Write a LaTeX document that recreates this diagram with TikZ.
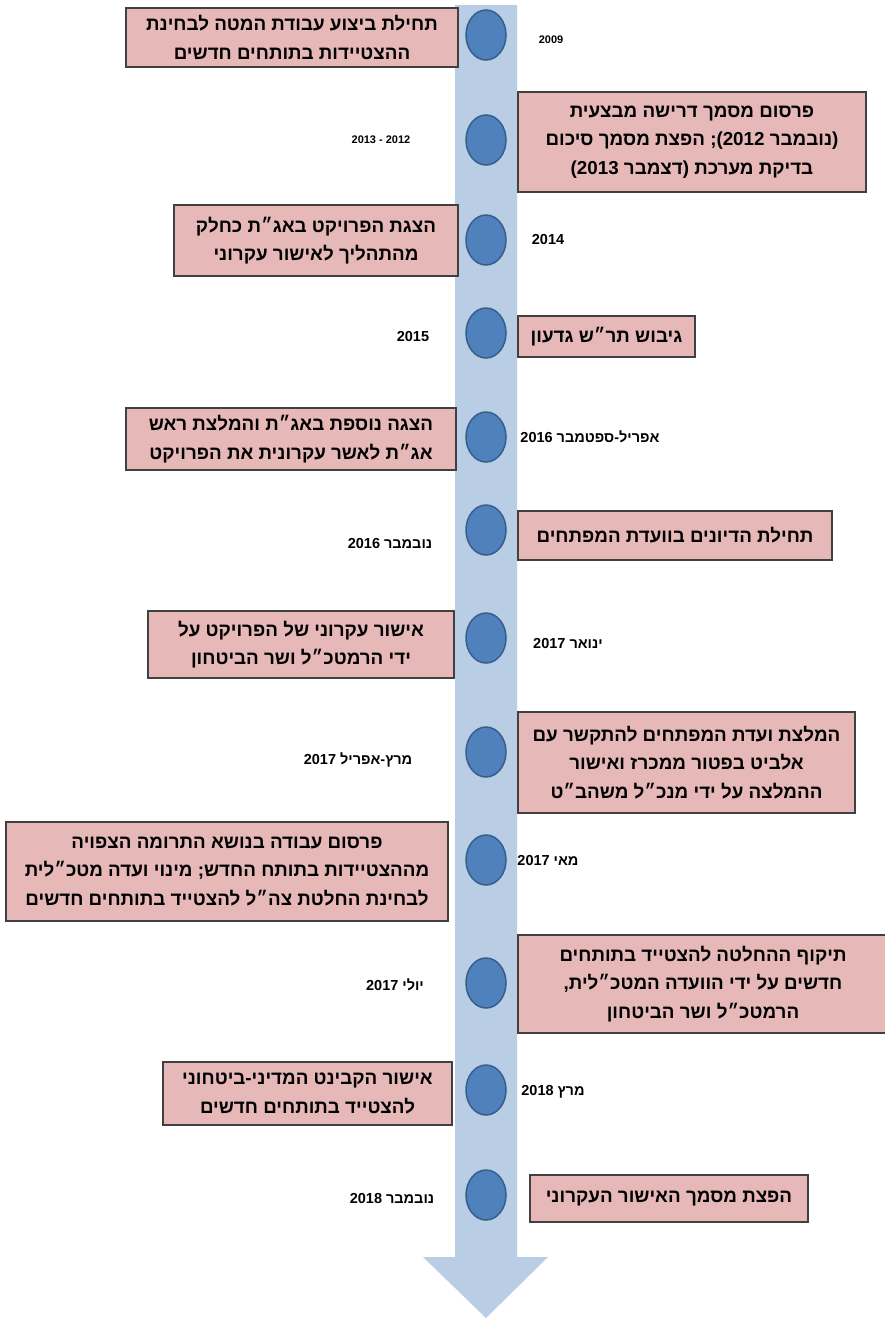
\documentclass[tikz,border=0pt]{standalone}
\usepackage{fontspec}
\setmainfont{Liberation Sans}
\newfontfamily\heb[Script=Hebrew]{Liberation Sans}
\TeXXeTstate=1
\usetikzlibrary{shapes.geometric}
\definecolor{shaftcol}{HTML}{B9CDE5}
\definecolor{boxfill}{HTML}{E6B9B8}
\definecolor{boxline}{HTML}{404040}
\definecolor{dotfill}{HTML}{4F81BD}
\definecolor{dotline}{HTML}{385D8A}
\newcommand\RL[1]{\beginR #1\endR}
\begin{document}
\begin{tikzpicture}[x=1pt,y=-1pt,
  evbox/.style={draw=boxline, line width=1.6pt, fill=boxfill, align=center, inner sep=0pt,
    font=\heb\bfseries\fontsize{18.8}{28.5}\selectfont},
  dot/.style={ellipse, draw=dotline, line width=1.5pt, fill=dotfill,
    minimum width=40pt, minimum height=50pt, inner sep=0pt},
  yr/.style={font=\heb\bfseries\fontsize{14.5}{16}\selectfont, inner sep=0pt},
  yrsmall/.style={font=\heb\bfseries\fontsize{11}{13}\selectfont, inner sep=0pt}]
\useasboundingbox (0,0) rectangle (885,1318);
\fill[white] (0,0) rectangle (885,1318);
% timeline arrow
\fill[shaftcol] (455,5) -- (517,5) -- (517,1257) -- (548,1257) -- (486,1318)
  -- (423,1257) -- (455,1257) -- cycle;
% dots
\foreach \i/\y in {1/35,2/140,3/240,4/333,5/437,6/530,7/638,8/752,9/860,10/983,11/1090,12/1195}
  \node[dot] (d\i) at (486,\y) {};
% boxes
\node[evbox, minimum width=332pt, minimum height=59pt] (b1) at (292,37.5)
  {\RL{תחילת ביצוע עבודת המטה לבחינת}\\\RL{ההצטיידות בתותחים חדשים}};
\node[evbox, minimum width=348pt, minimum height=100pt] (b2) at (692,142)
  {\RL{פרסום מסמך דרישה מבצעית}\\\RL{(נובמבר 2012); הפצת מסמך סיכום}\\\RL{בדיקת מערכת (דצמבר 2013)}};
\node[evbox, minimum width=284pt, minimum height=71pt] (b3) at (316,240.5)
  {\RL{הצגת הפרויקט באג״ת כחלק}\\\RL{מהתהליך לאישור עקרוני}};
\node[evbox, minimum width=177pt, minimum height=41pt] (b4) at (606.5,336.5)
  {\RL{גיבוש תר״ש גדעון}};
\node[evbox, minimum width=330pt, minimum height=62pt] (b5) at (291,439)
  {\RL{הצגה נוספת באג״ת והמלצת ראש}\\\RL{אג״ת לאשר עקרונית את הפרויקט}};
\node[evbox, minimum width=314pt, minimum height=49pt] (b6) at (675,535.5)
  {\RL{תחילת הדיונים בוועדת המפתחים}};
\node[evbox, minimum width=306pt, minimum height=67pt] (b7) at (301,644.5)
  {\RL{אישור עקרוני של הפרויקט על}\\\RL{ידי הרמטכ״ל ושר הביטחון}};
\node[evbox, minimum width=337pt, minimum height=101pt] (b8) at (686.5,762.5)
  {\RL{המלצת ועדת המפתחים להתקשר עם}\\\RL{אלביט בפטור ממכרז ואישור}\\\RL{ההמלצה על ידי מנכ״ל משהב״ט}};
\node[evbox, minimum width=442pt, minimum height=99pt] (b9) at (227,871.5)
  {\RL{פרסום עבודה בנושא התרומה הצפויה}\\\RL{מההצטיידות בתותח החדש; מינוי ועדה מטכ״לית}\\\RL{לבחינת החלטת צה״ל להצטייד בתותחים חדשים}};
\node[evbox, minimum width=370pt, minimum height=98pt] (b10) at (703,984)
  {\RL{תיקוף ההחלטה להצטייד בתותחים}\\\RL{חדשים על ידי הוועדה המטכ״לית,}\\\RL{הרמטכ״ל ושר הביטחון}};
\node[evbox, minimum width=289pt, minimum height=63pt] (b11) at (307.5,1093.5)
  {\RL{אישור הקבינט המדיני-ביטחוני}\\\RL{להצטייד בתותחים חדשים}};
\node[evbox, minimum width=278pt, minimum height=47pt] (b12) at (669,1198.5)
  {\RL{הפצת מסמך האישור העקרוני}};
% year labels
\node[yrsmall] (y1) at (551,40) {2009};
\node[yrsmall] (y2) at (381,140) {2013 - 2012};
\node[yr] (y3) at (548,240) {2014};
\node[yr] (y4) at (413,337) {2015};
\node[yr] (y5) at (590,437) {\RL{אפריל-ספטמבר 2016}};
\node[yr] (y6) at (390,543) {\RL{נובמבר 2016}};
\node[yr] (y7) at (568,643) {\RL{ינואר 2017}};
\node[yr] (y8) at (358,760) {\RL{מרץ-אפריל 2017}};
\node[yr] (y9) at (548,860) {\RL{מאי 2017}};
\node[yr] (y10) at (395,985) {\RL{יולי 2017}};
\node[yr] (y11) at (553,1092) {\RL{מרץ 2018}};
\node[yr] (y12) at (392,1198) {\RL{נובמבר 2018}};
\end{tikzpicture}
\end{document}
